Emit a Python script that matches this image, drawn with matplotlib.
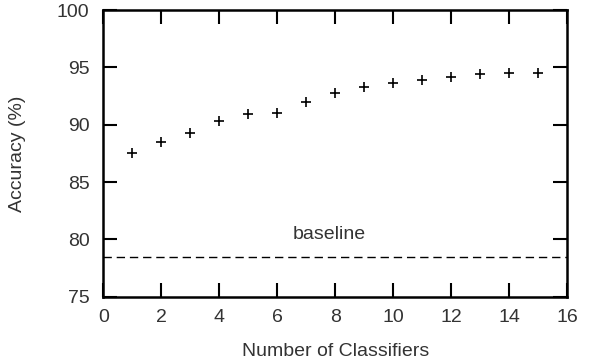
import matplotlib
matplotlib.use("Agg")
import matplotlib.pyplot as plt

# accuracy per number of classifiers
n_classifiers = [1, 2, 3, 4, 5, 6, 7, 8, 9, 10, 11, 12, 13, 14, 15]
accuracy = [87.5, 88.5, 89.3, 90.3, 90.9, 91.0, 92.0, 92.8, 93.3, 93.6,
            93.9, 94.2, 94.4, 94.5, 94.5]
baseline = 78.45

x_ticks = [0, 2, 4, 6, 8, 10, 12, 14, 16]
y_ticks = [75, 80, 85, 90, 95, 100]

TEXT = "#333333"
plt.rcParams["font.family"] = ["Liberation Sans", "DejaVu Sans"]

fig = plt.figure(figsize=(5.89, 3.6), dpi=100)
ax = fig.add_axes([0.1754, 0.1758, 0.7878, 0.7964])

ax.plot(n_classifiers, accuracy, linestyle="none", marker="+",
        markersize=7, markeredgewidth=1.2, color="black")
ax.axhline(baseline, color="black", linewidth=1.0, linestyle=(0, (6, 3.5)))
ax.text(7.8, 80.4, "baseline", ha="center", va="center", fontsize=14, color=TEXT)

ax.set_xlim(0, 16)
ax.set_ylim(75, 100)
ax.set_xticks(x_ticks)
ax.set_yticks(y_ticks)
ax.tick_params(direction="in", length=10, width=1.5, top=True, right=True,
               labelsize=14, labelcolor=TEXT, pad=9)
ax.tick_params(axis="y", pad=10)
for s in ax.spines.values():
    s.set_linewidth(1.8)

ax.set_xlabel("Number of Classifiers", fontsize=14, color=TEXT, labelpad=12)
ax.set_ylabel("Accuracy (%)", fontsize=14, color=TEXT, labelpad=22)

fig.savefig("out.png", dpi=100, facecolor="white")
